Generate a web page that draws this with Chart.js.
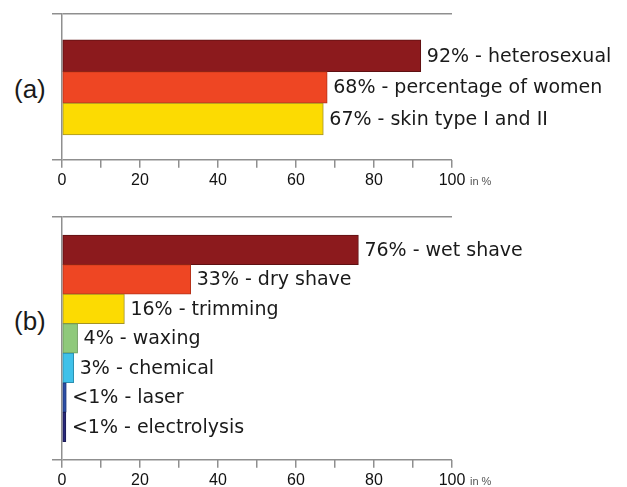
<!DOCTYPE html>
<html>
<head>
<meta charset="utf-8">
<script src="https://cdn.jsdelivr.net/npm/chart.js@4.4.1/dist/chart.umd.min.js"></script>
<style>
  html, body { margin: 0; padding: 0; background: #fff; overflow: hidden; }
  body { width: 627px; height: 487px; position: relative; }
  canvas { position: absolute; left: 0; }
  #chartA { top: 0; }
  #chartB { top: 200px; }
  .panel-tag { position: absolute; left: 14px; font: 26px "Liberation Sans", Arial, sans-serif; line-height: 26px; color: #1a1a1a; }
</style>
</head>
<body>
<div class="panel-tag" style="top: 76px;">(a)</div>
<div class="panel-tag" style="top: 308px;">(b)</div>
<canvas id="chartA" width="627" height="200"></canvas>
<canvas id="chartB" width="627" height="300"></canvas>
<script>
// panel (a)
const aLabels = ['heterosexual', 'percentage of women', 'skin type I and II'];
const aValues = [92, 68, 67];
const aValueText = ['92%', '68%', '67%'];
const aColors = ['#8c1a1d', '#ee4623', '#fcdb02'];
const aBorders = ['#5e1012', '#b5321a', '#a49327'];

// panel (b)
const bLabels = ['wet shave', 'dry shave', 'trimming', 'waxing', 'chemical', 'laser', 'electrolysis'];
const bValues = [76, 33, 16, 4, 3, 1.1, 1];
const bValueText = ['76%', '33%', '16%', '4%', '3%', '<1%', '<1%'];
const bColors = ['#8c1a1d', '#ee4623', '#fcdb02', '#8fc97b', '#3fc1e9', '#2c4ea6', '#29297a'];
const bBorders = ['#5e1012', '#b5321a', '#a49327', '#6a9a5a', '#2b8fb0', '#1d3577', '#1a1a55'];

// x axis
const xMin = 0;
const xMax = 100;
const xStep = 10;
const xLabelEvery = 20;
const unitText = 'in %';

const axisGray = '#8f8f8f';

// draws "NN% - label" after each bar plus the unit next to 100
const barLabels = {
  id: 'barLabels',
  afterDatasetsDraw(chart, args, opts) {
    const ctx = chart.ctx;
    const meta = chart.getDatasetMeta(0);
    ctx.save();
    ctx.font = '19px "DejaVu Sans", Verdana, sans-serif';
    ctx.fillStyle = '#1a1a1a';
    ctx.textBaseline = 'middle';
    meta.data.forEach((bar, i) => {
      ctx.fillText(opts.texts[i], bar.x + 6, bar.y + 1);
    });
    const x = chart.scales.x;
    ctx.font = '11px "Liberation Sans", Arial, sans-serif';
    ctx.fillStyle = '#555';
    ctx.fillText(unitText, x.getPixelForValue(xMax) + 18, x.top + 22);
    ctx.restore();
  }
};

const makeChart = (id, labels, values, valueText, colors, borders, yMin, yMax, padTop) => {
  const ctx = document.getElementById(id).getContext('2d');
  return new Chart(ctx, {
    type: 'bar',
    plugins: [barLabels],
    data: {
      labels: labels,
      datasets: [{
        data: values.map((v, i) => ({ x: v, y: i })),
        backgroundColor: colors,
        borderColor: borders,
        borderWidth: 1,
        borderSkipped: false,
        barPercentage: 1,
        categoryPercentage: 1
      }]
    },
    options: {
      indexAxis: 'y',
      responsive: false,
      animation: false,
      devicePixelRatio: 1,
      layout: { padding: { left: 52, right: 175, top: padTop, bottom: 7 } },
      plugins: {
        legend: { display: false },
        tooltip: { enabled: false },
        barLabels: { texts: valueText.map((t, i) => t + ' - ' + labels[i]) }
      },
      scales: {
        x: {
          type: 'linear',
          min: xMin,
          max: xMax,
          border: { display: false },
          grid: { drawOnChartArea: false, color: axisGray, lineWidth: 1.5, tickLength: 8 },
          ticks: {
            stepSize: xStep,
            autoSkip: false,
            maxRotation: 0,
            padding: 3,
            color: '#111',
            font: { family: '"Liberation Sans", Arial, sans-serif', size: 16 },
            callback: (v) => (v % xLabelEvery === 0 ? v : '')
          }
        },
        y: {
          type: 'linear',
          reverse: true,
          offset: false,
          min: yMin,
          max: yMax,
          afterBuildTicks: (scale) => { scale.ticks = [{ value: scale.min }, { value: scale.max }]; },
          border: { display: true, color: axisGray, width: 1.5 },
          grid: { offset: false, color: axisGray, lineWidth: 1.5, tickLength: 10 },
          ticks: { display: false }
        }
      }
    }
  });
};

makeChart('chartA', aLabels, aValues, aValueText, aColors, aBorders, -1.32, 3.29, 14);
makeChart('chartB', bLabels, bValues, bValueText, bColors, bBorders, -1.11, 7.11, 17);
</script>
</body>
</html>
